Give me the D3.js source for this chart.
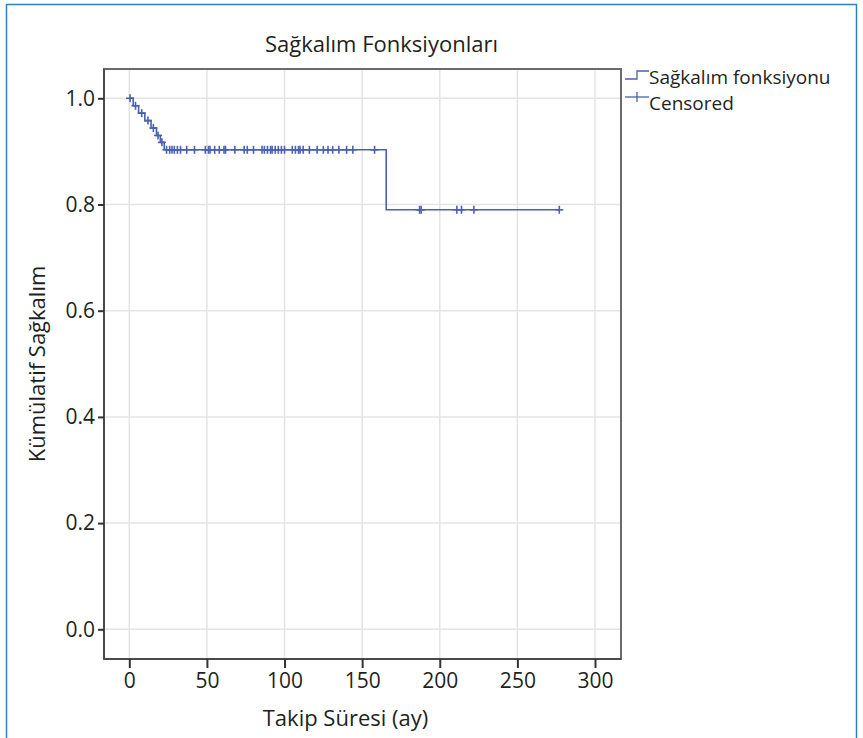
<!DOCTYPE html>
<html>
<head>
<meta charset="utf-8">
<script src="https://cdn.jsdelivr.net/npm/d3@7"></script>
<style>
  html, body { margin: 0; padding: 0; background: #fff; }
  svg text { font-family: "Open Sans", "Noto Sans", sans-serif; fill: #231f20; }
</style>
</head>
<body>
<svg id="chart" width="863" height="738"></svg>
<script>
// ---- data ----
const chartTitle = "Sağkalım Fonksiyonları";
const xTitle = "Takip Süresi (ay)";
const yTitle = "Kümülatif Sağkalım";
const legendLabels = ["Sağkalım fonksiyonu", "Censored"];
const xTicks = [0, 50, 100, 150, 200, 250, 300];
const yTicks = [0.0, 0.2, 0.4, 0.6, 0.8, 1.0];
// Kaplan-Meier step points (time, survival)
const stepTimes =    [0,   2.5,   6,     10,    14,    17.5,  20,    22.5,  165.5];
const stepSurvival = [1.0, 0.986, 0.972, 0.958, 0.944, 0.930, 0.917, 0.903, 0.790];
const lastFollowUp = 277;
// censored observations (time)
const censoredTimes = [0.5, 4, 8, 12, 15.5, 18.5, 21,
  24, 26, 27.5, 29, 31, 33, 37, 42, 49, 51, 52, 55, 58, 61, 62, 68, 74, 76, 80,
  85.5, 87, 89, 91, 92, 94, 96, 98, 100, 105, 107, 109, 110, 112, 116, 121, 125,
  128, 131, 135, 140, 144, 158,
  187, 188, 211, 214, 222, 277];

// ---- layout ----
const plot = { left: 104, right: 621, top: 69, bottom: 659 };
const blue = "#4a61b0";

const svg = d3.select("#chart");

// outer frame
svg.append("rect")
  .attr("x", 6.5).attr("y", 4.5)
  .attr("width", 850).attr("height", 760)
  .attr("fill", "none").attr("stroke", "#2f80c2").attr("stroke-width", 1.5);

const x = d3.scaleLinear().domain([0, 300]).range([129.3, 595]);
const y = d3.scaleLinear().domain([0, 1]).range([629.3, 98.3]);

// gridlines
const grid = svg.append("g");
grid.selectAll("line.v").data(xTicks).join("line")
  .attr("x1", d => x(d)).attr("x2", d => x(d))
  .attr("y1", plot.top).attr("y2", plot.bottom)
  .attr("stroke", "#e4e4e4").attr("stroke-width", 1.5);
grid.selectAll("line.h").data(yTicks).join("line")
  .attr("y1", d => y(d)).attr("y2", d => y(d))
  .attr("x1", plot.left).attr("x2", plot.right)
  .attr("stroke", "#e4e4e4").attr("stroke-width", 1.5);

// plot frame
svg.append("rect")
  .attr("x", plot.left).attr("y", plot.top)
  .attr("width", plot.right - plot.left).attr("height", plot.bottom - plot.top)
  .attr("fill", "none").attr("stroke", "#6a6a6a").attr("stroke-width", 2);

// axes
const xAxis = d3.axisBottom(x).tickValues(xTicks).tickSize(9).tickPadding(5).tickFormat(d3.format("d"));
const gx = svg.append("g").attr("transform", `translate(0,${plot.bottom})`).call(xAxis);
gx.select(".domain").attr("d", `M${plot.left},0H${plot.right}`).attr("stroke", "#4a4a4a").attr("stroke-width", 2);
gx.selectAll(".tick line").attr("stroke", "#333").attr("stroke-width", 2);
gx.selectAll(".tick text").style("font-size", "21px").attr("fill", "#231f20")
  .style("font-family", '"Open Sans", sans-serif');

const yAxis = d3.axisLeft(y).tickValues(yTicks).tickSize(6).tickPadding(3).tickFormat(d3.format(".1f"));
const gy = svg.append("g").attr("transform", `translate(${plot.left},0)`).call(yAxis);
gy.select(".domain").attr("d", `M0,${plot.top}V${plot.bottom}`).attr("stroke", "#4a4a4a").attr("stroke-width", 2);
gy.selectAll(".tick line").attr("stroke", "#333").attr("stroke-width", 2);
gy.selectAll(".tick text").style("font-size", "21px").attr("fill", "#231f20")
  .style("font-family", '"Open Sans", sans-serif');

// survival curve
const pts = stepTimes.map((t, i) => [t, stepSurvival[i]]);
pts.push([lastFollowUp, stepSurvival[stepSurvival.length - 1]]);
const line = d3.line().x(d => x(d[0])).y(d => y(d[1])).curve(d3.curveStepAfter);
svg.append("path").datum(pts).attr("d", line)
  .attr("fill", "none").attr("stroke", blue).attr("stroke-width", 1.6);

// survival lookup for censored marks
function survAt(t) {
  let s = stepSurvival[0];
  for (let i = 0; i < stepTimes.length; i++) if (stepTimes[i] <= t) s = stepSurvival[i];
  return s;
}
const cs = 4;
const marks = svg.append("g").attr("stroke", blue).attr("stroke-width", 1.6);
censoredTimes.forEach(t => {
  const cx = x(t), cy = y(survAt(t));
  marks.append("line").attr("x1", cx).attr("x2", cx).attr("y1", cy - cs).attr("y2", cy + cs);
  marks.append("line").attr("x1", cx - cs).attr("x2", cx + cs).attr("y1", cy).attr("y2", cy);
});

// title
svg.append("text").attr("x", 265).attr("y", 51.5)
  .style("font-size", "22px").text(chartTitle);

// axis titles
svg.append("text").attr("x", (plot.left + plot.right) / 2 - 17).attr("y", 726)
  .attr("text-anchor", "middle").style("font-size", "22px").text(xTitle);
svg.append("text")
  .attr("transform", `translate(45,${(plot.top + plot.bottom) / 2}) rotate(-90)`)
  .attr("text-anchor", "middle").style("font-size", "22px").text(yTitle);

// legend
const lg = svg.append("g");
lg.append("path").attr("d", "M625,79H637V71H649")
  .attr("fill", "none").attr("stroke", blue).attr("stroke-width", 1.3);
lg.append("line").attr("x1", 625).attr("x2", 649).attr("y1", 97).attr("y2", 97)
  .attr("stroke", blue).attr("stroke-width", 1.3);
lg.append("line").attr("x1", 637).attr("x2", 637).attr("y1", 92).attr("y2", 102)
  .attr("stroke", blue).attr("stroke-width", 1.3);
lg.append("text").attr("x", 649).attr("y", 84).style("font-size", "19px").text(legendLabels[0]);
lg.append("text").attr("x", 649).attr("y", 110).style("font-size", "19px").text(legendLabels[1]);
</script>
</body>
</html>
